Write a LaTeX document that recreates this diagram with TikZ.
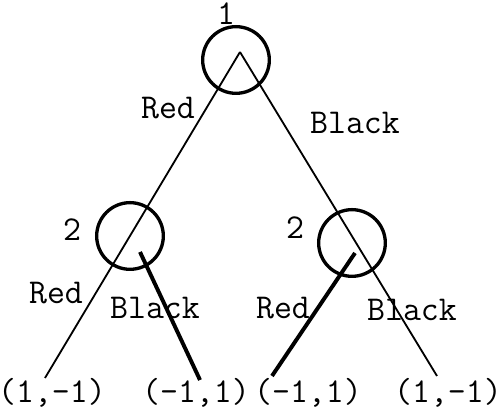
\documentclass[tikz,border=0pt]{standalone}
\begin{document}
\begin{tikzpicture}[x=0.33pt,y=-0.33pt,
    font=\fontsize{11.5}{13}\ttfamily,
    choice/.style={circle,draw,line width=1.1pt,minimum size=22pt,inner sep=0pt},
    thin/.style={line width=0.6pt},
    thick/.style={line width=1.3pt}]
  \useasboundingbox (0,0) rectangle (499,412);

  % --- nodo 1 ---
  \node[choice] (root) at (236,60) {};
  \coordinate (r) at (240,52);
  \node at (226,14) {1};

  % --- nodi 2 ---
  \node[choice] (left) at (130,236) {};
  \coordinate (lc) at (140,252);
  \node at (72,230) {2};

  \node[choice] (right) at (352,243) {};
  \coordinate (rc) at (355,253);
  \node at (295,228) {2};

  % --- foglie ---
  \node[inner sep=0pt] (l1) at (52,393) {(1,-1)};
  \node[inner sep=0pt] (l2) at (196,393) {(-1,1)};
  \node[inner sep=0pt] (l3) at (308,393) {(-1,1)};
  \node[inner sep=0pt] (l4) at (448,393) {(1,-1)};
  \coordinate (e1) at (45,378);
  \coordinate (e2) at (200,380);
  \coordinate (e3) at (272,376);
  \coordinate (e4) at (437,376);

  % --- rami ---
  \draw[thin] (r) -- (e1);     % Red, attraverso nodo 2
  \draw[thin] (r) -- (e4);     % Black, attraverso nodo 2
  \draw[thick] (lc) -- (e2);
  \draw[thick] (rc) -- (e3);

  % --- etichette ---
  \node at (168,108) {Red};
  \node at (355,123) {Black};
  \node at (56,293) {Red};
  \node at (155,308) {Black};
  \node at (283,308) {Red};
  \node at (412,310) {Black};
\end{tikzpicture}
\end{document}
